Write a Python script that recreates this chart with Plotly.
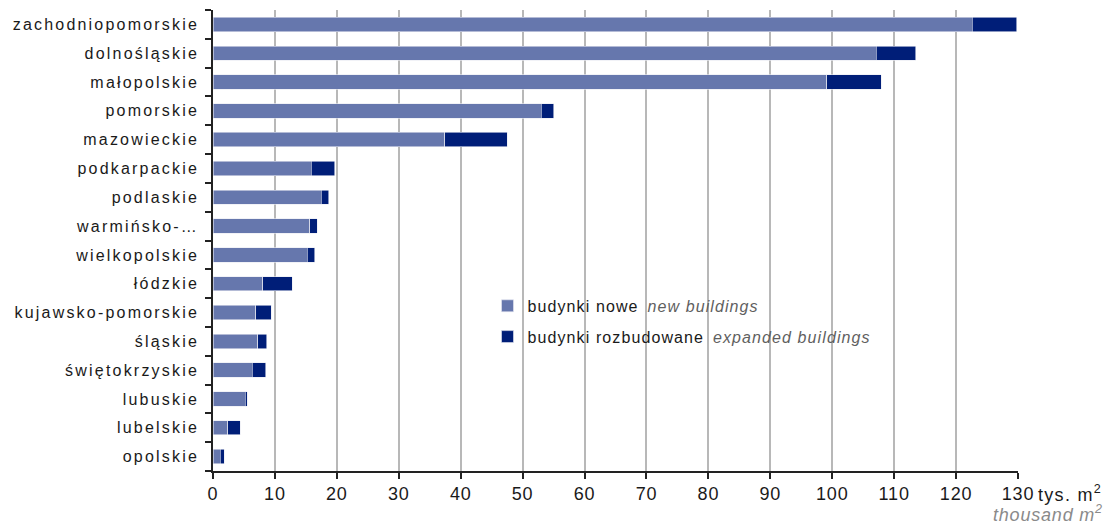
import plotly.graph_objects as go

regions = ["zachodniopomorskie", "dolnośląskie", "małopolskie", "pomorskie", "mazowieckie",
           "podkarpackie", "podlaskie", "warmińsko-…", "wielkopolskie", "łódzkie",
           "kujawsko-pomorskie", "śląskie", "świętokrzyskie", "lubuskie", "lubelskie", "opolskie"]
new_buildings = [122.6, 107.1, 99.1, 53.0, 37.4, 15.9, 17.5, 15.6, 15.2, 8.0, 6.9, 7.2, 6.3, 5.2, 2.4, 1.2]
expanded_buildings = [7.2, 6.4, 8.8, 2.0, 10.1, 3.8, 1.2, 1.2, 1.2, 4.8, 2.5, 1.5, 2.2, 0.35, 2.0, 0.6]
x_ticks = list(range(0, 131, 10))

FONT = "Liberation Sans, Arial, sans-serif"


def spaced(text, px):
    return f"<span style='letter-spacing:{px}px'>{text}</span>"


def legend_label(pl, en):
    return (spaced(pl, 1.1) + "&nbsp;&nbsp;"
            + f"<span style='color:#5f5f5f;letter-spacing:1.1px'><i>{en}</i></span>")


fig = go.Figure()
fig.add_trace(go.Bar(
    y=regions, x=new_buildings, orientation="h",
    name=legend_label("budynki nowe", "new buildings"), legendgroup="a",
    marker=dict(color="#6677ad", line=dict(color="#e8eaf2", width=0.6)),
))
fig.add_trace(go.Bar(
    y=regions, x=expanded_buildings, orientation="h",
    name=legend_label("budynki rozbudowane", "expanded buildings"), legendgroup="b",
    marker=dict(color="#001e78", line=dict(color="#e8eaf2", width=0.6)),
))

fig.update_layout(
    barmode="stack",
    bargap=0.5,
    width=1103, height=516,
    margin=dict(l=205, r=93, t=2, b=53),
    plot_bgcolor="white", paper_bgcolor="white",
    font=dict(family=FONT, size=16, color="#1a1a1a"),
    showlegend=True,
    legend=dict(
        x=0.341, y=0.395, xanchor="left", yanchor="top",
        bgcolor="rgba(0,0,0,0)", font=dict(size=16, color="#1a1a1a"),
        traceorder="grouped", itemwidth=30, tracegroupgap=7,
    ),
    xaxis=dict(
        range=[0, 130], tickvals=x_ticks,
        ticktext=[spaced(str(v), 0.8) for v in x_ticks],
        showgrid=True, gridcolor="#b8b8b8", gridwidth=1.5,
        showline=True, linecolor="#222222", linewidth=1.5,
        ticks="outside", ticklen=6, tickcolor="#222222", tickwidth=1.5,
        tickfont=dict(size=18, color="#1a1a1a"),
        zeroline=False, fixedrange=True,
    ),
    yaxis=dict(
        autorange="reversed",
        tickmode="array", tickvals=regions, ticktext=[spaced(r, 2.2) for r in regions],
        showline=True, linecolor="#222222", linewidth=1.5,
        ticks="outside", ticklen=6, tickcolor="#222222", tickwidth=1.5,
        tickson="boundaries", ticklabelstandoff=9,
        tickfont=dict(size=16, color="#1a1a1a"),
        showgrid=False, fixedrange=True,
    ),
)

fig.add_annotation(
    x=1.0, y=0, xref="paper", yref="paper", xanchor="left", yanchor="top",
    xshift=18, yshift=-9, text=spaced("tys. m<sup>2</sup>", 1.3), showarrow=False,
    font=dict(size=18, color="#1a1a1a"),
)
fig.add_annotation(
    x=1.0, y=0, xref="paper", yref="paper", xanchor="right", yanchor="top",
    xshift=87, yshift=-29,
    text="<span style='letter-spacing:0.8px'><i>thousand m<sup>2</sup></i></span>",
    showarrow=False, font=dict(size=18, color="#8a8a8a"),
)

fig.write_html("out.html")
